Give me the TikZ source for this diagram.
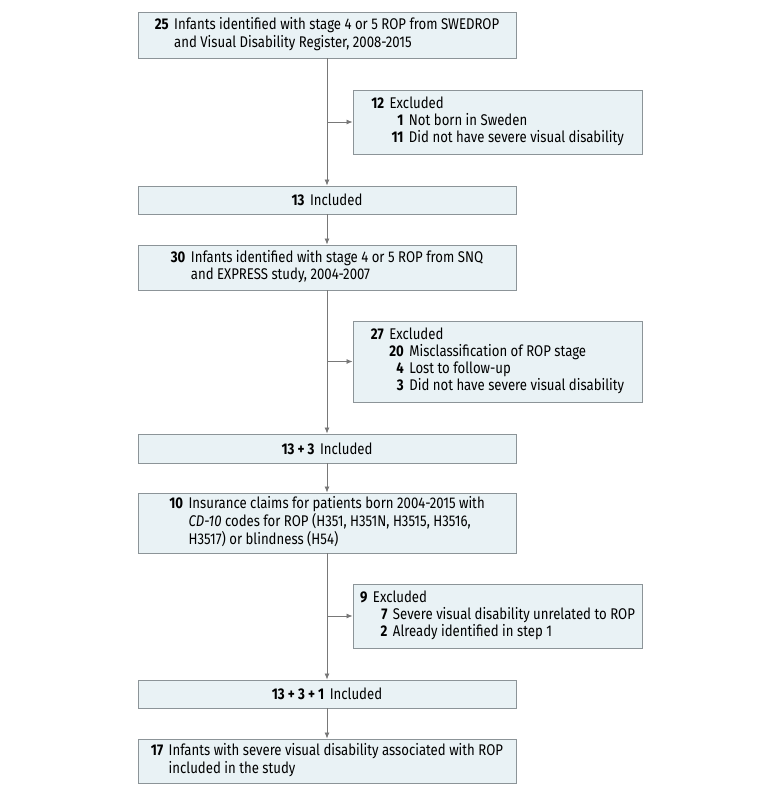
\documentclass[tikz,border=0pt]{standalone}
\usepackage{fontspec}
\setmainfont{Fira Sans}[FakeStretch=0.85]
\usetikzlibrary{arrows.meta}
\definecolor{boxfill}{RGB}{233,242,245}
\definecolor{boxline}{RGB}{140,148,152}
\definecolor{arrowcol}{RGB}{120,120,120}
\tikzset{
  mainbox/.style={draw=boxline, fill=boxfill, line width=0.9pt, minimum width=378pt, inner sep=0pt, align=center},
  exclbox/.style={draw=boxline, fill=boxfill, line width=0.9pt, minimum width=289pt, inner sep=0pt, align=center},
  flow/.style={draw=arrowcol, line width=0.8pt, -{Latex[length=6pt,width=5pt]}},
  plain/.style={draw=arrowcol, line width=0.8pt}
}
\newcommand{\txt}{\fontsize{15.5}{17.3}\selectfont}
\begin{document}
\begin{tikzpicture}[x=1pt,y=-1pt]
\useasboundingbox (0,0) rectangle (780,796);
\node[mainbox, minimum height=46pt] (b1) at (327,35) {\txt\begin{tabular}{@{}r@{\hspace{5.5pt}}l@{}}\textbf{25} & Infants identified with stage 4 or 5 ROP from SWEDROP\\ & and Visual Disability Register, 2008-2015\end{tabular}};
\node[exclbox, minimum height=64pt] (e1) at (497.5,122) {\txt\begin{tabular}{@{}r@{\hspace{5.5pt}}r@{\hspace{5.5pt}}l@{}}\textbf{12} & \multicolumn{2}{@{}l@{}}{Excluded}\\ & \textbf{\phantom{0}1} & Not born in Sweden\\ & \textbf{11} & Did not have severe visual disability\end{tabular}};
\node[mainbox, minimum height=28pt] (b2) at (327,200) {\txt\textbf{13}\hspace{5.5pt}Included};
\node[mainbox, minimum height=45pt] (b3) at (327,267.5) {\txt\begin{tabular}{@{}r@{\hspace{5.5pt}}l@{}}\textbf{30} & Infants identified with stage 4 or 5 ROP from SNQ\\ & and EXPRESS study, 2004-2007\end{tabular}};
\node[exclbox, minimum height=81pt] (e2) at (497.5,361.5) {\txt\begin{tabular}{@{}r@{\hspace{5.5pt}}r@{\hspace{5.5pt}}l@{}}\textbf{27} & \multicolumn{2}{@{}l@{}}{Excluded}\\ & \textbf{20} & Misclassification of ROP stage\\ & \textbf{4} & Lost to follow-up\\ & \textbf{3} & Did not have severe visual disability\end{tabular}};
\node[mainbox, minimum height=29pt] (b4) at (327,448.5) {\txt\textbf{13 + 3}\hspace{5.5pt}Included};
\node[mainbox, minimum height=60pt] (b5) at (327,523) {\txt\begin{tabular}{@{}r@{\hspace{5.5pt}}l@{}}\textbf{10} & Insurance claims for patients born 2004-2015 with\\ & \textit{CD-10} codes for ROP (H351, H351N, H3515, H3516,\\ & H3517) or blindness (H54)\end{tabular}};
\node[exclbox, minimum height=64pt] (e3) at (497.5,616) {\txt\begin{tabular}{@{}r@{\hspace{5.5pt}}r@{\hspace{5.5pt}}l@{}}\textbf{9} & \multicolumn{2}{@{}l@{}}{Excluded}\\ & \textbf{\phantom{0}7} & Severe visual disability unrelated to ROP\\ & \textbf{\phantom{0}2} & Already identified in step 1\end{tabular}};
\node[mainbox, minimum height=28pt] (b6) at (327,694) {\txt\textbf{13 + 3 + 1}\hspace{5.5pt}Included};
\node[mainbox, minimum height=44pt] (b7) at (327,761) {\txt\begin{tabular}{@{}r@{\hspace{5.5pt}}l@{}}\textbf{17} & Infants with severe visual disability associated with ROP\\ & included in the study\end{tabular}};
\coordinate (j1) at (b1.south |- e1.west);
\coordinate (j2) at (b3.south |- e2.west);
\coordinate (j3) at (b5.south |- e3.west);
\draw[flow] (b1.south) -- (b2.north);
\draw[flow] (j1) -- (e1.west);
\draw[flow] (b2.south) -- (b3.north);
\draw[flow] (b3.south) -- (b4.north);
\draw[flow] (j2) -- (e2.west);
\draw[flow] (b4.south) -- (b5.north);
\draw[flow] (b5.south) -- (b6.north);
\draw[flow] (j3) -- (e3.west);
\draw[flow] (b6.south) -- (b7.north);
\end{tikzpicture}
\end{document}
